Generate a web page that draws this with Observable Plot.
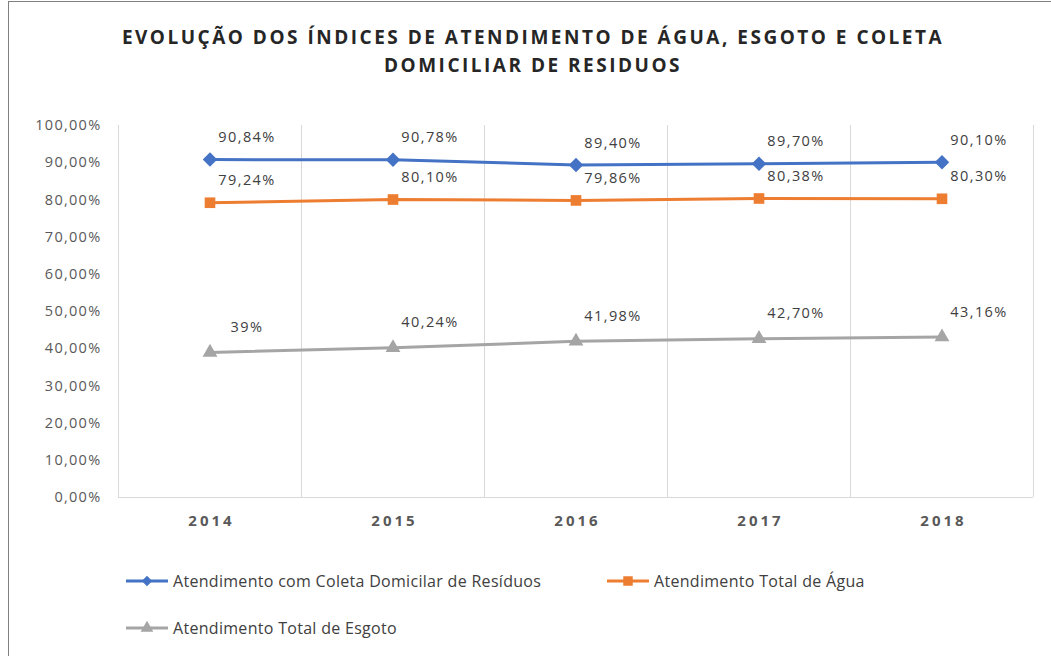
<!DOCTYPE html>
<html>
<head>
<meta charset="utf-8">
<script src="https://cdn.jsdelivr.net/npm/d3@7"></script>
<script src="https://cdn.jsdelivr.net/npm/@observablehq/plot@0.6"></script>
<style>
  html, body { margin: 0; padding: 0; background: #fff; }
  body { width: 1051px; height: 656px; position: relative; overflow: hidden; font-family: "Open Sans", sans-serif; }
  #frame { position: absolute; left: 8px; top: 1px; width: 1100px; height: 700px; border-left: 1.5px solid #7f7f7f; border-top: 1.5px solid #7f7f7f; }
  #title { position: absolute; left: 0; width: 1066px; top: 23px; text-align: center; font-weight: 700; font-size: 19px; letter-spacing: 2.5px; line-height: 28px; color: #262626; }
  #chart { position: absolute; left: 0; top: 100px; }
  #chart g[aria-label="y-axis tick label"] text { letter-spacing: 1.3px; }
  #chart g[aria-label="x-axis tick label"] text { letter-spacing: 3px; }
  #chart g[aria-label="text"] text { letter-spacing: 1.4px; }
  .leg { position: absolute; display: flex; align-items: center; font-size: 16px; letter-spacing: 0.3px; color: #404040; }
  .leg svg { margin-right: 4px; }
</style>
</head>
<body>
<div id="frame"></div>
<div id="title">EVOLUÇÃO DOS ÍNDICES DE ATENDIMENTO DE ÁGUA, ESGOTO E COLETA<br>DOMICILIAR DE RESIDUOS</div>
<div id="chart"></div>
<div id="legend"></div>
<script>
const years = [2014, 2015, 2016, 2017, 2018];
const residuos = [90.84, 90.78, 89.40, 89.70, 90.10];
const residuosLabels = ["90,84%", "90,78%", "89,40%", "89,70%", "90,10%"];
const agua = [79.24, 80.10, 79.86, 80.38, 80.30];
const aguaLabels = ["79,24%", "80,10%", "79,86%", "80,38%", "80,30%"];
const esgoto = [39, 40.24, 41.98, 42.70, 43.16];
const esgotoLabels = ["39%", "40,24%", "41,98%", "42,70%", "43,16%"];
const yTicks = [0, 10, 20, 30, 40, 50, 60, 70, 80, 90, 100];

const seriesNames = ["Atendimento com Coleta Domicilar de Resíduos", "Atendimento Total de Água", "Atendimento Total de Esgoto"];
const colors = ["#4472C4", "#ED7D31", "#A5A5A5"];

const mk = (name, vals, labels) => years.map((y, i) => ({series: name, year: y, value: vals[i], label: labels[i]}));
const dR = mk(seriesNames[0], residuos, residuosLabels);
const dA = mk(seriesNames[1], agua, aguaLabels);
const dE = mk(seriesNames[2], esgoto, esgotoLabels);

const gridTicks = years.map(y => y - 0.5).concat([years[years.length - 1] + 0.5]);

const chart = Plot.plot({
  width: 1051,
  height: 440,
  marginLeft: 118,
  marginRight: 18,
  marginTop: 25,
  marginBottom: 43,
  style: {fontFamily: "Open Sans, sans-serif", background: "transparent", overflow: "visible"},
  x: {domain: [years[0] - 0.5, years[years.length - 1] + 0.5]},
  y: {domain: [0, 100]},
  marks: [
    Plot.gridX(gridTicks, {stroke: "#d9d9d9", strokeOpacity: 1, strokeWidth: 1}),
    Plot.ruleY([0], {stroke: "#d9d9d9", strokeWidth: 1}),
    Plot.axisY({ticks: yTicks, tickSize: 0, tickPadding: 17, label: null, fontSize: 14.5, fill: "#595959",
      tickFormat: d => d.toFixed(2).replace(".", ",") + "%"}),
    Plot.axisX({ticks: years, tickSize: 0, tickPadding: 18, label: null, fontSize: 15, fontWeight: 700, fill: "#595959",
      dx: 1.5, tickFormat: d => String(d)}),
    Plot.line(dE, {x: "year", y: "value", stroke: colors[2], strokeWidth: 3}),
    Plot.line(dA, {x: "year", y: "value", stroke: colors[1], strokeWidth: 3}),
    Plot.line(dR, {x: "year", y: "value", stroke: colors[0], strokeWidth: 3}),
    Plot.dot(dE, {x: "year", y: "value", symbol: "triangle", fill: colors[2], r: 5.5}),
    Plot.dot(dA, {x: "year", y: "value", symbol: "square", fill: colors[1], r: 6}),
    Plot.dot(dR, {x: "year", y: "value", symbol: "diamond2", fill: colors[0], r: 6.5}),
    Plot.text(dR, {x: "year", y: "value", text: "label", dx: 37, dy: -22, fontSize: 14.5, fill: "#404040"}),
    Plot.text(dA, {x: "year", y: "value", text: "label", dx: 37, dy: -22, fontSize: 14.5, fill: "#404040"}),
    Plot.text(dE, {x: "year", y: "value", text: "label", dx: 37, dy: -25, fontSize: 14.5, fill: "#404040"})
  ]
});
document.getElementById("chart").appendChild(chart);

// Legend
const legendPos = [[125, 581], [606, 581], [125, 628]];
const legend = document.getElementById("legend");
seriesNames.forEach((name, i) => {
  const item = document.createElement("div");
  item.className = "leg";
  item.style.left = legendPos[i][0] + "px";
  item.style.top = (legendPos[i][1] - 11) + "px";
  item.style.height = "22px";
  const svg = d3.create("svg").attr("width", 44).attr("height", 16);
  svg.append("line").attr("x1", 1).attr("x2", 43).attr("y1", 8).attr("y2", 8)
    .attr("stroke", colors[i]).attr("stroke-width", 3);
  const symType = i === 0 ? d3.symbolDiamond2 : i === 1 ? d3.symbolSquare : d3.symbolTriangle;
  const size = i === 0 ? 70 : i === 1 ? 90 : 70;
  svg.append("path").attr("d", d3.symbol(symType, size)()).attr("transform", "translate(22,8)")
    .attr("fill", colors[i]);
  item.appendChild(svg.node());
  const span = document.createElement("span");
  span.textContent = name;
  item.appendChild(span);
  legend.appendChild(item);
});
</script>
</body>
</html>
